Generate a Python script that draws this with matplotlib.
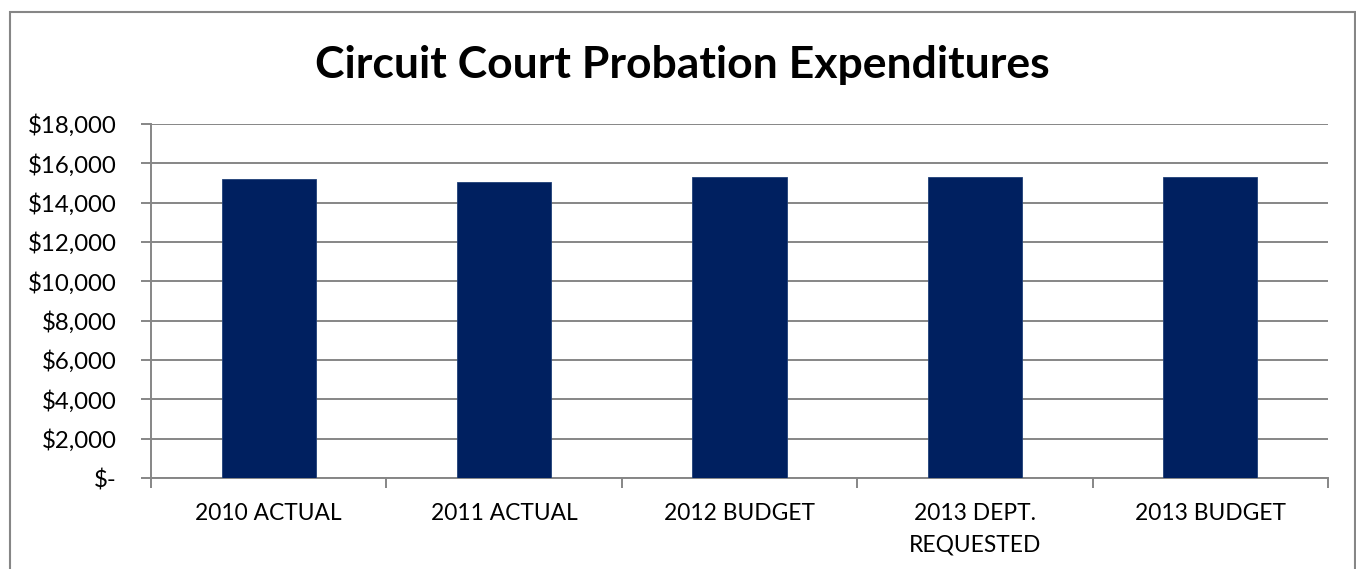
import matplotlib
matplotlib.use("Agg")
import matplotlib.pyplot as plt
from matplotlib.patches import Rectangle
from matplotlib.ticker import FixedLocator, FuncFormatter

categories = ["2010 ACTUAL", "2011 ACTUAL", "2012 BUDGET", "2013 DEPT.\nREQUESTED", "2013 BUDGET"]
values = [15215, 15065, 15300, 15300, 15300]
yticks = [0, 2000, 4000, 6000, 8000, 10000, 12000, 14000, 16000, 18000]

plt.rcParams['font.family'] = ['Lato', 'DejaVu Sans']

fig = plt.figure(figsize=(13.56, 5.69), dpi=100)
ax = fig.add_axes([151/1356, 1-478/569, (1328-151)/1356, (478-124)/569])

grey = '#868686'
x = list(range(len(categories)))
ax.bar(x, values, width=0.4, color='#002060', edgecolor='#1f3f78', linewidth=0.6, zorder=3)

ax.set_xlim(-0.5, len(categories)-0.5)
ax.set_ylim(0, 18000)
ax.yaxis.set_major_locator(FixedLocator(yticks))
ax.yaxis.set_major_formatter(FuncFormatter(lambda v, p: "$-" if v == 0 else f"${v:,.0f}"))
ax.grid(axis='y', color=grey, linewidth=1.4, zorder=0)
ax.set_axisbelow(True)

ax.set_xticks([i - 0.5 for i in range(len(categories)+1)])
ax.set_xticklabels([])
ax.set_xticks(x, minor=True)
ax.set_xticklabels(categories, minor=True, fontsize=16.4, linespacing=1.62)
ax.tick_params(axis='x', which='major', length=7, width=1.4, color=grey, direction='out')
ax.tick_params(axis='x', which='minor', length=0, pad=18)
ax.tick_params(axis='y', length=7, width=1.4, color=grey, labelsize=17.3, pad=18)

for s in ['top', 'right']:
    ax.spines[s].set_visible(False)
for s in ['left', 'bottom']:
    ax.spines[s].set_color(grey)
    ax.spines[s].set_linewidth(1.4)

for lbl in ax.get_xticklabels(minor=True):
    lbl.set_verticalalignment('top')

fig.text(682/1356, 1-65/569, "Circuit Court Probation Expenditures", ha='center', va='center',
         fontsize=32, fontweight='bold')

# chart-area border
fig.add_artist(Rectangle((9.5/1356, -0.05), (1354.5-9.5)/1356, 1.05-11.5/569,
                         transform=fig.transFigure, fill=False, edgecolor=grey, linewidth=1.5))

fig.savefig("out.png", dpi=100)
